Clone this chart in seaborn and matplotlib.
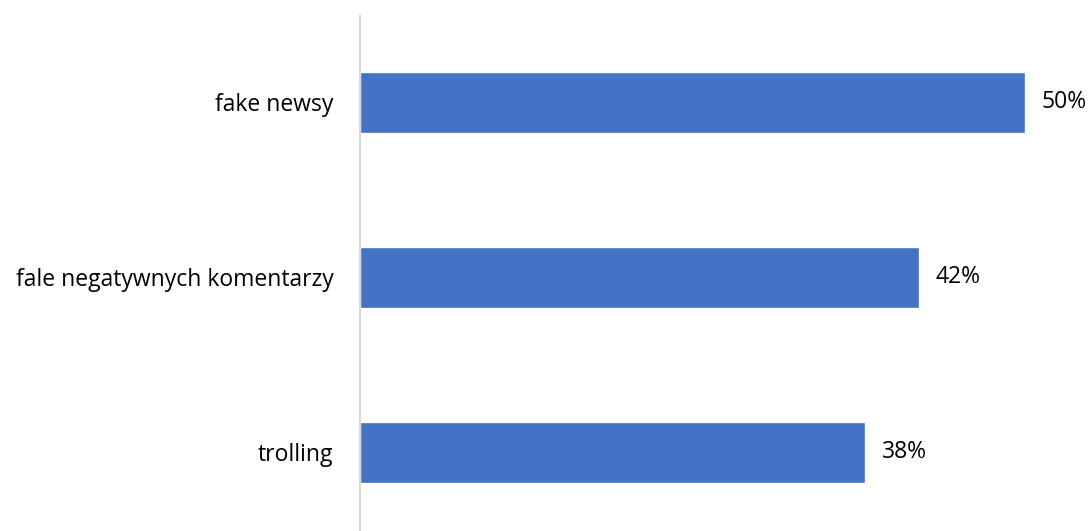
import matplotlib
matplotlib.use("Agg")
import matplotlib.pyplot as plt
import seaborn as sns
import pandas as pd

# Dane
kategorie = ["fake newsy", "fale negatywnych komentarzy", "trolling"]
wartosci = [50, 42, 38]
etykiety = ["50%", "42%", "38%"]

df = pd.DataFrame({"kategoria": kategorie, "wartosc": wartosci})

sns.set_style("white")
plt.rcParams["font.family"] = ["Open Sans", "DejaVu Sans"]

fig = plt.figure(figsize=(10.89, 5.31), dpi=100)
# oś: lewa krawędź ~360 px, 50% kończy się ~1025 px
ax = fig.add_axes([360 / 1089, 0.0, (1025 - 360) / 1089, (531 - 15) / 531])

sns.barplot(data=df, x="wartosc", y="kategoria", orient="h",
            color="#4472C4", saturation=1, width=0.35, ax=ax)

ax.set_xlim(0, 50)
ax.set_ylim(2.45, -0.5)

for i, (v, t) in enumerate(zip(wartosci, etykiety)):
    ax.text(v + 1.25, i, t, va="center", ha="left", fontsize=16.5,
            color="#000000", clip_on=False)

ax.set_xlabel("")
ax.set_ylabel("")
ax.set_xticks([])
ax.tick_params(axis="y", length=0, pad=19, labelsize=16.5, labelcolor="#000000")

for s in ["top", "right", "bottom"]:
    ax.spines[s].set_visible(False)
ax.spines["left"].set_color("#D9D9D9")
ax.spines["left"].set_linewidth(1.5)

plt.savefig("out.png", dpi=100)
